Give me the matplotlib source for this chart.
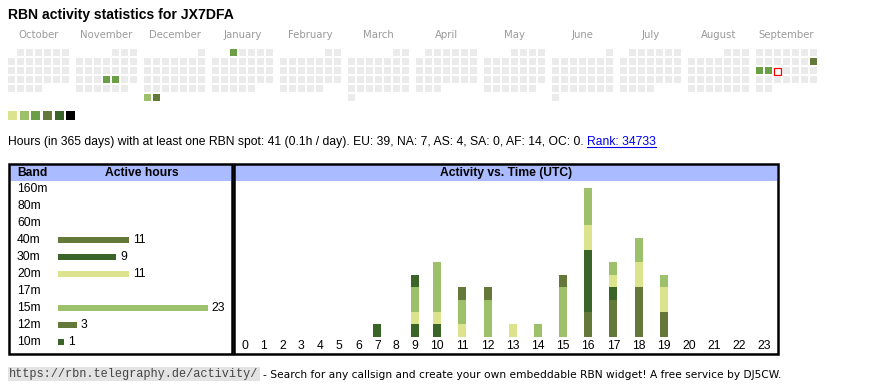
import calendar
import numpy as np
import matplotlib
matplotlib.use("Agg")
import matplotlib.pyplot as plt
from matplotlib.patches import Rectangle

plt.rcParams['font.family'] = ['Liberation Sans', 'DejaVu Sans']

W, H = 870, 390
FS = 8.75

# calendar data
months = [(2024, 10), (2024, 11), (2024, 12), (2025, 1), (2025, 2), (2025, 3),
          (2025, 4), (2025, 5), (2025, 6), (2025, 7), (2025, 8), (2025, 9)]
month_names = ["October", "November", "December", "January", "February", "March",
               "April", "May", "June", "July", "August", "September"]
active_days = ["2024-11-21", "2024-11-22", "2024-12-30", "2024-12-31", "2025-01-01",
               "2025-09-14", "2025-09-15", "2025-09-16"]
active_levels = [3, 3, 2, 4, 3, 4, 3, 3]
today = "2025-09-17"
level_colors = ["#dce38d", "#9dc16b", "#6a9f46", "#64783a", "#3a6428", "#000000"]

# band table
bands = ["160m", "80m", "60m", "40m", "30m", "20m", "17m", "15m", "12m", "10m"]
band_hours = [0, 0, 0, 11, 9, 11, 0, 23, 3, 1]
band_colors = ["#b0b0b0", "#b0b0b0", "#b0b0b0", "#64783a", "#3a6428",
               "#dce38d", "#b0b0b0", "#9dc16b", "#64783a", "#3a6428"]

# activity vs time (hours per band, UTC hour 0..23)
hours = np.arange(24)
act_40m = [0, 0, 0, 0, 0, 0, 0, 0, 0, 0, 0, 0, 0, 0, 0, 0, 2, 3, 4, 2, 0, 0, 0, 0]
act_30m = [0, 0, 0, 0, 0, 0, 0, 1, 0, 1, 1, 0, 0, 0, 0, 0, 5, 1, 0, 0, 0, 0, 0, 0]
act_20m = [0, 0, 0, 0, 0, 0, 0, 0, 0, 1, 1, 1, 0, 1, 0, 0, 2, 1, 2, 2, 0, 0, 0, 0]
act_15m = [0, 0, 0, 0, 0, 0, 0, 0, 0, 2, 4, 2, 3, 0, 1, 4, 3, 1, 2, 1, 0, 0, 0, 0]
act_12m = [0, 0, 0, 0, 0, 0, 0, 0, 0, 0, 0, 1, 1, 0, 0, 1, 0, 0, 0, 0, 0, 0, 0, 0]
act_10m = [0, 0, 0, 0, 0, 0, 0, 0, 0, 1, 0, 0, 0, 0, 0, 0, 0, 0, 0, 0, 0, 0, 0, 0]
stack = [("40m", act_40m), ("30m", act_30m), ("20m", act_20m),
         ("15m", act_15m), ("12m", act_12m), ("10m", act_10m)]

fig = plt.figure(figsize=(W / 100, H / 100), dpi=100)
bg = fig.add_axes([0, 0, 1, 1])
bg.set_xlim(0, W)
bg.set_ylim(H, 0)
bg.axis("off")


def px_axes(x0, y0, x1, y1):
    a = fig.add_axes([x0 / W, 1 - y1 / H, (x1 - x0) / W, (y1 - y0) / H])
    a.axis("off")
    return a


bg.text(8, 15, "RBN activity statistics for JX7DFA", fontsize=10.1,
        fontweight="bold", va="center")

# calendar
for m, (yy, mm) in enumerate(months):
    x0 = 8 + m * 68
    first_wd, ndays = calendar.monthrange(yy, mm)
    bg.text(x0 + 30.5, 35, month_names[m], fontsize=7.3, color="#9a9a9a",
            ha="center", va="center", family="DejaVu Sans")
    for d in range(1, ndays + 1):
        pos = first_wd + d - 1
        col, row = pos % 7, pos // 7
        date = f"{yy:04d}-{mm:02d}-{d:02d}"
        fc = "#ebebeb"
        if date in active_days:
            fc = level_colors[active_levels[active_days.index(date)] - 1]
        if date == today:
            bg.add_patch(Rectangle((x0 + col * 9 + 0.5, 49 + row * 9 + 0.5), 7, 7,
                                   fc="white", ec="red", lw=0.9))
        else:
            bg.add_patch(Rectangle((x0 + col * 9, 49 + row * 9), 7, 7, fc=fc, ec="none"))

for i, c in enumerate(level_colors):
    bg.add_patch(Rectangle((8 + i * 11.7, 111), 9, 9, fc=c, ec="none"))

t = bg.text(8, 142, "Hours (in 365 days) with at least one RBN spot: 41 (0.1h / day). "
            "EU: 39, NA: 7, AS: 4, SA: 0, AF: 14, OC: 0. ", fontsize=FS, va="center")
fig.canvas.draw()
bb = t.get_window_extent()
bg.text(bb.x1, 142, "Rank: 34733", fontsize=FS, va="center", color="#0000ee")
r = bg.texts[-1].get_window_extent()
bg.plot([r.x0, r.x1], [147, 147], color="#0000ee", lw=0.8)

# table frames
for x0, x1, title, tx in [(8, 233, None, None), (233, 779, "Activity vs. Time (UTC)", 506)]:
    bg.add_patch(Rectangle((x0 + 2, 165), x1 - x0 - 4, 15.5, fc="#aabbff", ec="none"))
    bg.add_patch(Rectangle((x0 + 1, 164), x1 - x0 - 2, 189.5, fc="none", ec="black", lw=1.8))
    if title:
        bg.text(tx, 173, title, fontsize=FS, fontweight="bold", ha="center", va="center")
bg.text(17, 173, "Band", fontsize=FS, fontweight="bold", va="center")
bg.text(142, 173, "Active hours", fontsize=FS, fontweight="bold", ha="center", va="center")

# band bars
ax_t = px_axes(10, 181, 231, 351)
ax_t.set_xlim(-7.32, 26.58)
ax_t.set_ylim(9.51, -0.49)
ypos = np.arange(len(bands))
ax_t.barh(ypos, band_hours, height=6 / 17, color=band_colors)
for i, (b, v) in enumerate(zip(bands, band_hours)):
    ax_t.text(-6.24, i, b, fontsize=FS, va="center")
    if v:
        ax_t.text(v + 0.55, i, str(v), fontsize=FS, va="center")

# activity bars
col_w = np.where(hours < 10, 19.0, 25.2)
xc = np.cumsum(col_w) - col_w / 2
ax_a = px_axes(235, 181, 777, 353)
ax_a.set_xlim(0, col_w.sum())
ax_a.set_ylim(-1.31, 12.56)
bottom = np.zeros(24)
for name, vals in stack:
    vals = np.array(vals)
    ax_a.bar(xc, vals, width=8, bottom=bottom, color=band_colors[bands.index(name)])
    bottom += vals
for x, h in zip(xc, hours):
    ax_a.text(x, -0.73, str(h), fontsize=FS, ha="center", va="center")

# footer
bg.add_patch(Rectangle((8, 367), 252, 14, fc="#e3e3e3", ec="none"))
bg.text(9, 374.5, "https://rbn.telegraphy.de/activity/", fontsize=8.6,
        family="Liberation Mono", color="#444444", va="center")
bg.text(263, 374.5, "- Search for any callsign and create your own embeddable RBN widget! "
        "A free service by DJ5CW.", fontsize=7.7, family="Liberation Sans Narrow",
        va="center")

fig.savefig("out.png", dpi=100)
